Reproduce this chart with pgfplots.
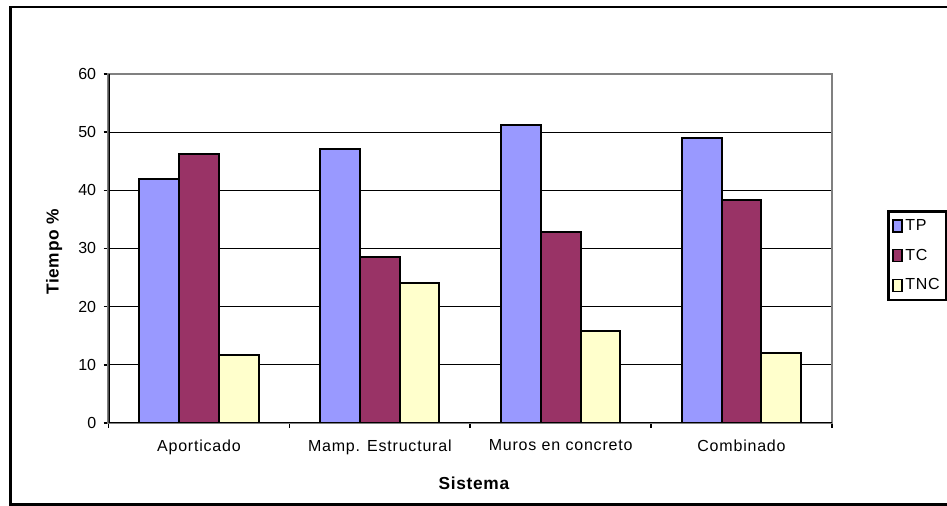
\documentclass[border=0pt]{standalone}
\usepackage{fontspec}
\setmainfont{Liberation Sans}
\newfontfamily\spaced{Liberation Sans}[LetterSpace=5]
\newfontfamily\spacedb{Liberation Sans}[LetterSpace=4]
\usepackage{pgfplots}
\pgfplotsset{compat=1.18}
\definecolor{cTP}{RGB}{153,153,255}
\definecolor{cTC}{RGB}{153,51,102}
\definecolor{cTNC}{RGB}{255,255,204}
\definecolor{frame}{RGB}{128,128,128}
\pgfplotsset{sq legend/.style={legend image code/.code={\draw[##1,line width=1.3pt] (0pt,-4.5pt) rectangle (6.5pt,4.5pt);}}}
\begin{document}
\begin{tikzpicture}
\useasboundingbox (-81.4pt,-62.25pt) rectangle (628.9pt,317.25pt);
\fill[white] (-81.4pt,-62.25pt) rectangle (628.9pt,317.25pt);
\draw[black, line width=2pt] (-73.5pt,-61pt) rectangle (660pt,312pt);
\begin{axis}[
  at={(0,0)}, anchor=south west,
  scale only axis, width=542.6pt, height=261.75pt,
  ybar=0pt, bar width=29.8pt,
  xmin=-0.5, xmax=3.5, ymin=0, ymax=60,
  xtick={-0.5,0.5,1.5,2.5,3.5}, xticklabels={},
  extra x ticks={0,1,2,3},
  extra x tick labels={Aporticado, Mamp. Estructural, Muros en concreto, Combinado},
  extra x tick style={major tick length=0pt},
  xticklabel style={font=\spaced\fontsize{12}{14}\selectfont, yshift=-9pt},
  ytick={0,10,...,60},
  yticklabel style={font=\fontsize{12}{14}\selectfont, xshift=-2pt},
  /pgf/number format/assume math mode=true,
  ymajorgrids, grid style={black, line width=0.9pt},
  tick align=outside, major tick length=3.75pt,
  tick style={black, line width=1.2pt},
  xtick pos=bottom, ytick pos=left,
  axis line style={draw=frame, line width=1.6pt},
  ylabel={Tiempo \%},
  ylabel style={font=\spacedb\bfseries\fontsize{13}{15}\selectfont, at={(axis description cs:-0.0753,0.49)}, anchor=center},
  xlabel={Sistema},
  xlabel style={font=\spacedb\bfseries\fontsize{13}{15}\selectfont, at={(axis description cs:0.505,-0.1719)}, anchor=center},
  legend style={at={(axis description cs:1.076,0.6103)}, anchor=north west, draw=black, line width=2pt, fill=white,
    font=\spaced\fontsize{12}{14}\selectfont, row sep=8.5pt, inner xsep=3pt, inner ysep=4pt, cells={anchor=west}},
]
\addplot[fill=cTP, draw=black, line width=1.5pt, sq legend] coordinates {(0,42.0) (1,47.1) (2,51.2) (3,49.0)};
\addplot[fill=cTC, draw=black, line width=1.5pt, sq legend] coordinates {(0,46.2) (1,28.6) (2,32.8) (3,38.3)};
\addplot[fill=cTNC, draw=black, line width=1.5pt, sq legend] coordinates {(0,11.7) (1,24.0) (2,15.8) (3,12.1)};
\legend{TP,TC,TNC}
\draw[black, line width=1.6pt] (rel axis cs:0,1) -- (rel axis cs:0,0) -- (rel axis cs:1,0);
\end{axis}
\end{tikzpicture}
\end{document}
